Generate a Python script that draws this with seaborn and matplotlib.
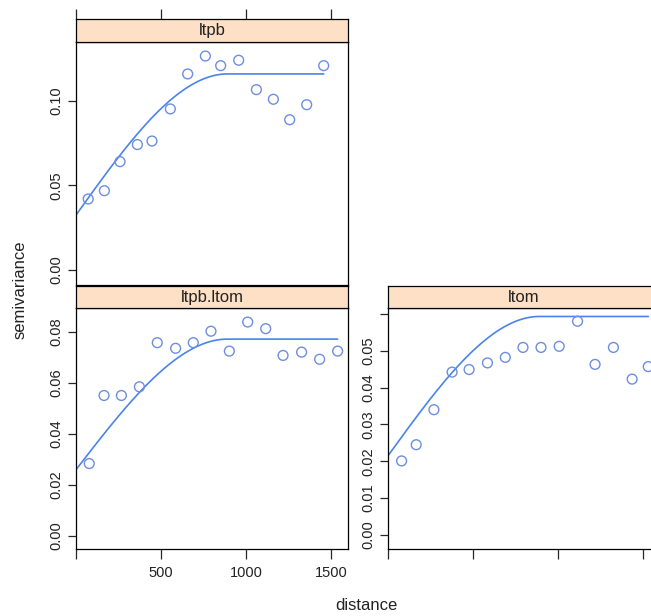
import numpy as np
import pandas as pd
import matplotlib
matplotlib.use('Agg')
import matplotlib.pyplot as plt
import seaborn as sns

# === Sample variograms (distance, semivariance) ===
ltpb_dist = [72, 167, 259, 361, 447, 555, 657, 761, 851, 957, 1061, 1161, 1257, 1357, 1457]
ltpb_gamma = [0.0420, 0.0469, 0.0641, 0.0742, 0.0763, 0.0953, 0.1160, 0.1266,
              0.1209, 0.1241, 0.1067, 0.1010, 0.0889, 0.0978, 0.1209]

cross_dist = [78, 165, 267, 373, 478, 586, 690, 794, 902, 1010, 1116, 1218, 1327, 1433, 1539]
cross_gamma = [0.0284, 0.0551, 0.0551, 0.0585, 0.0758, 0.0736, 0.0758, 0.0803,
               0.0725, 0.0839, 0.0813, 0.0708, 0.0721, 0.0693, 0.0725]

ltom_dist = [80, 166, 270, 377, 477, 585, 690, 794, 900, 1007, 1115, 1218, 1326, 1436, 1531]
ltom_gamma = [0.0201, 0.0245, 0.0340, 0.0442, 0.0449, 0.0467, 0.0482, 0.0509,
              0.0509, 0.0512, 0.0580, 0.0463, 0.0509, 0.0423, 0.0457]

# === Fitted spherical models: (nugget, partial sill, range) ===
ltpb_model = (0.0325, 0.0835, 890)
cross_model = (0.0260, 0.0512, 890)
ltom_model = (0.0215, 0.0378, 890)

x_ticks = [0, 500, 1000, 1500]
x_ticklabels = ['', '500', '1000', '1500']
ltpb_yticks = [0.00, 0.05, 0.10]
cross_yticks = [0.00, 0.02, 0.04, 0.06, 0.08]
ltom_yticks = [0.00, 0.01, 0.02, 0.03, 0.04, 0.05, 0.06]


def spherical(h, nugget, psill, rng):
    u = np.minimum(h / rng, 1.0)
    return nugget + psill * (1.5 * u - 0.5 * u ** 3)


sns.set_style('ticks')
plt.rcParams['font.family'] = ['Liberation Sans', 'DejaVu Sans']

W, H = 651, 616
fig = plt.figure(figsize=(W / 100, H / 100), dpi=100)


def box(x0, y0, x1, y1):
    # pixel box (top-left origin) -> figure fraction
    return [x0 / W, 1 - y1 / H, (x1 - x0) / W, (y1 - y0) / H]


line_col = '#4a84ea'
pt_col = '#6d8ee0'
strip_col = '#fee0c6'
text_col = '#222222'

panels = [
    ('ltpb', ltpb_dist, ltpb_gamma, ltpb_model, ltpb_yticks, (-0.0089, 0.1349),
     (76, 42, 348, 285), (76, 19, 348, 42)),
    ('ltpb.ltom', cross_dist, cross_gamma, cross_model, cross_yticks, (-0.0051, 0.0894),
     (76, 308, 348, 549), (76, 286, 348, 308)),
    ('ltom', ltom_dist, ltom_gamma, ltom_model, ltom_yticks, (-0.0038, 0.0616),
     (388, 308, 660, 549), (388, 286, 660, 308)),
]

for i, (name, dist, gamma, model, yticks, ylim, pbox, sbox) in enumerate(panels):
    ax = fig.add_axes(box(*pbox))
    df = pd.DataFrame({'dist': dist, 'gamma': gamma})
    h = np.linspace(0, max(dist), 300)
    curve = pd.DataFrame({'dist': h, 'gamma': spherical(h, *model)})

    sns.lineplot(data=curve, x='dist', y='gamma', ax=ax, color=line_col,
                 linewidth=1.2, estimator=None, sort=False)
    sns.scatterplot(data=df, x='dist', y='gamma', ax=ax, marker='o', s=50,
                    facecolor='none', edgecolor=pt_col, linewidth=1.0, zorder=3)

    ax.set_xlim(0, 1600)
    ax.set_ylim(*ylim)
    ax.set_xlabel('')
    ax.set_ylabel('')
    ax.set_yticks(yticks)
    labels = ['%.2f' % v for v in yticks]
    if name == 'ltom':
        labels[-1] = ''
    ax.set_yticklabels(labels, rotation=90, va='center')
    ax.set_xticks(x_ticks)
    if name == 'ltpb.ltom':
        ax.set_xticklabels(x_ticklabels)
    else:
        ax.set_xticklabels([])
    if name == 'ltpb':
        ax.tick_params(axis='x', bottom=False)
    ax.tick_params(axis='x', length=7.5, width=0.9, labelsize=10.5, pad=5,
                   direction='out', labelcolor=text_col)
    ax.tick_params(axis='y', length=5.8, width=0.9, labelsize=10.5, pad=3,
                   direction='out', labelcolor=text_col)
    for sp in ax.spines.values():
        sp.set_linewidth(0.9)
        sp.set_color('black')

    # strip
    sax = fig.add_axes(box(*sbox))
    sax.set_facecolor(strip_col)
    sax.set_xlim(0, 1600)
    sax.set_yticks([])
    if name == 'ltpb':
        sax.xaxis.tick_top()
        sax.set_xticks(x_ticks)
        sax.set_xticklabels([])
        sax.tick_params(axis='x', length=7.5, width=0.9, direction='out')
    else:
        sax.set_xticks([])
    for sp in sax.spines.values():
        sp.set_linewidth(0.9)
        sp.set_color('black')
    sax.text(0.5, 0.48, name, transform=sax.transAxes, ha='center', va='center',
             fontsize=12, color=text_col)

fig.text(20 / W, 1 - 290 / H, 'semivariance', rotation=90, ha='center', va='center',
         fontsize=12, color=text_col)
fig.text(366 / W, 1 - 606 / H, 'distance', ha='center', va='center', fontsize=12,
         color=text_col)

fig.savefig('out.png', dpi=100)
